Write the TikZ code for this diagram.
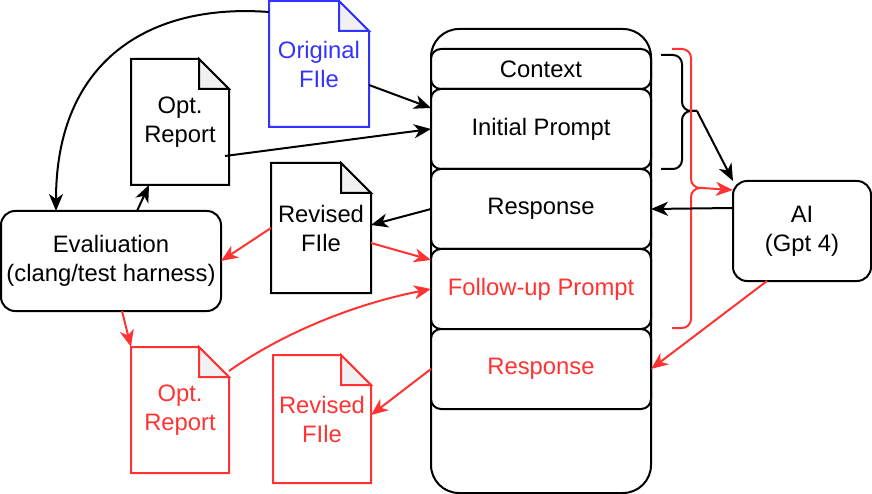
\documentclass[tikz,border=0pt]{standalone}
\usepackage{fontspec}
\setmainfont{Liberation Sans}
\usetikzlibrary{arrows.meta,calc}
\definecolor{eRed}{HTML}{FF3333}
\definecolor{eBlue}{HTML}{3333FF}
\definecolor{eFold}{HTML}{F1F1F1}
% page outline with dog-ear, drawn round a doc node
\newcommand{\docframe}[2]{%
  \draw[#2] (#1.south west) -- (#1.north west) -- ([xshift=-30pt]#1.north east)
    -- ([yshift=-30pt]#1.north east) -- (#1.south east) -- cycle;
  \filldraw[#2, fill=eFold] ([xshift=-30pt]#1.north east) -- ([xshift=-30pt,yshift=-30pt]#1.north east)
    -- ([yshift=-30pt]#1.north east) -- cycle;}
\begin{document}
\begin{tikzpicture}[x=1pt, y=-1pt, font=\fontsize{23.8}{29}\selectfont, line width=2pt,
  row/.style={draw, fill=white, rounded corners=10pt, minimum width=220pt, minimum height=80pt, inner sep=0pt, outer sep=0pt},
  box/.style={draw, fill=white, rounded corners=14pt, align=center, inner sep=0pt, outer sep=0pt},
  doc/.style={align=center, inner sep=0pt, outer sep=0pt},
  e/.style={-{Stealth[length=17pt,width=14pt,inset=5pt]}}, er/.style={e, eRed}]
\useasboundingbox (0,0) rectangle (872,494);
% conversation column
\node[draw, rounded corners=28pt, minimum width=220pt, minimum height=464pt, outer sep=0pt](conv) at (541,261){};
\node[row, minimum height=40pt](ctx) at (541,69){Context};
\node[row](init) at (541,129){Initial Prompt};
\node[row](resp1) at (541,209){Response};
\node[row, text=eRed](follow) at (541,289){Follow-up Prompt};
\node[row, text=eRed](resp2) at (541,369){Response};
% other boxes
\node[box, minimum width=138pt, minimum height=100pt](ai) at (802,231){AI\\(Gpt 4)};
\node[box, minimum width=220pt, minimum height=100pt](eval) at (111,261){Evaliuation\\(clang/test harness)};
% files and reports
\node[doc, text=eBlue, minimum width=100pt, minimum height=126pt](orig) at (319,64){Original\\FIle};
\node[doc, minimum width=98pt, minimum height=126pt](opt1) at (180,122){Opt.\\Report};
\node[doc, minimum width=100pt, minimum height=130pt](rev1) at (321,228){Revised\\FIle};
\node[doc, text=eRed, minimum width=98pt, minimum height=126pt](opt2) at (180,410){Opt.\\Report};
\node[doc, text=eRed, minimum width=98pt, minimum height=128pt](rev2) at (322,419){Revised\\FIle};
\docframe{orig}{eBlue}
\docframe{opt1}{black}
\docframe{rev1}{black}
\docframe{opt2}{eRed}
\docframe{rev2}{eRed}
% braces
\coordinate (btip) at (697,111);
\coordinate (rtip) at (702,188);
\draw[rounded corners=9pt] (661,55) -- (682,55) -- (682,111) -- (btip);
\draw[rounded corners=9pt] (btip) -- (682,111) -- (682,169) -- (661,169);
\draw[eRed, rounded corners=9pt] (672,49) -- (691,49) -- (691,188) -- (rtip);
\draw[eRed, rounded corners=9pt] (rtip) -- (691,188) -- (691,328) -- (672,328);
% first round
\draw[e]([yshift=-21pt]orig.east) -- ([yshift=21pt]init.west);
\draw[e]([xshift=-4pt,yshift=-34pt]opt1.east) -- (init.west);
\draw[e]([yshift=-11pt]orig.north west) .. controls +(-119,-9) and +(0,-151) .. ([xshift=55pt]eval.north west);
\draw[e]([xshift=26pt]eval.north) -- ([xshift=-31pt]opt1.south);
\draw[e](btip) -- (ai.north west);
\draw[e]([yshift=23pt]ai.west) -- (resp1.east);
\draw[e](resp1.west) -- ([yshift=3pt]rev1.east);
% follow-up round
\draw[er](rev1.west) -- (eval.east);
\draw[er]([yshift=-15pt]rev1.east) -- ([yshift=29pt]follow.west);
\draw[er]([xshift=11pt]eval.south) -- (opt2.north west);
\draw[er]([yshift=-24pt]opt2.north east) .. controls +(51,-36) and +(-81,16) .. (follow.west);
\draw[er](rtip) -- ([yshift=-9pt]ai.north west);
\draw[er]([xshift=-35pt]ai.south) -- (resp2.east);
\draw[er](resp2.west) -- ([yshift=4pt]rev2.east);
\end{tikzpicture}
\end{document}
